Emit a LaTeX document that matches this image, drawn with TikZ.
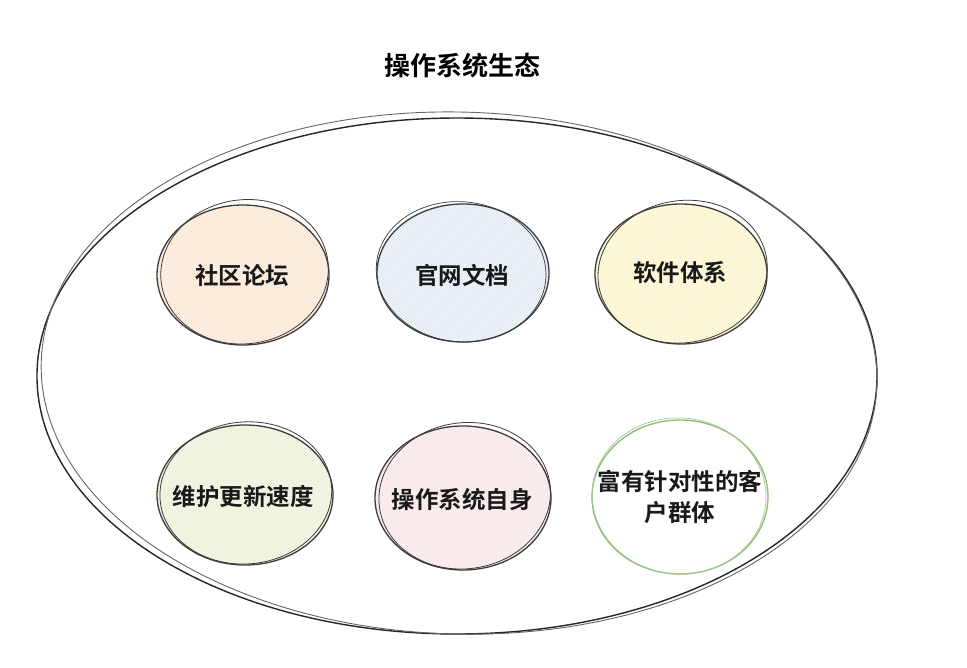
\documentclass[tikz,border=0pt]{standalone}
\usepackage{fontspec}
\newfontfamily\cjk{Noto Sans CJK SC}
\newfontfamily\cjkb{Noto Sans CJK SC Bold}
\usetikzlibrary{patterns}
\definecolor{cOr}{HTML}{FBE3CC}
\definecolor{cBl}{HTML}{DDE7F3}
\definecolor{cYe}{HTML}{FAF4C4}
\definecolor{cGr}{HTML}{E8EFD2}
\definecolor{cPk}{HTML}{F8E2E2}
\definecolor{cGo}{HTML}{8FBA78}
\definecolor{lineC}{HTML}{3C3C3C}
\tikzset{
  bub/.style={draw=lineC, line width=1.3pt, preaction={fill=#1}, pattern=north east lines, pattern color=white},
  bubtxt/.style={font=\cjkb\fontsize{23.5}{31}\selectfont, text=black!90, align=center}
}
\begin{document}
\begin{tikzpicture}[x=1pt,y=-1pt]
\useasboundingbox (0,0) rectangle (967,667);
\fill[white] (0,0) rectangle (967,667);
% outer ellipse (sketchy)
\draw[line width=1.4pt, color=black!85] (457,376) ellipse [x radius=420, y radius=258];
\draw[line width=0.9pt, color=black!60, rotate around={-1.5:(457,376)}] (459,373) ellipse [x radius=418, y radius=261];
\node[font=\cjkb\fontsize{26}{30}\selectfont] (title) at (462,66) {操作系统生态};
% bubbles
\draw[bub=cOr] (243,275) ellipse [x radius=86, y radius=70];
\draw[draw=lineC, line width=0.8pt, rotate around={8:(243,275)}] (245,272) ellipse [x radius=84, y radius=72];
\node[bubtxt] (n1) at (242,275) {社区论坛};

\draw[bub=cBl] (463,273) ellipse [x radius=86, y radius=69];
\draw[draw=lineC, line width=0.7pt, rotate around={-6:(463,273)}] (461,272) ellipse [x radius=85, y radius=70];
\node[bubtxt] (n2) at (462,275) {官网文档};

\draw[bub=cYe] (681,274) ellipse [x radius=86, y radius=70];
\draw[draw=lineC, line width=0.8pt, rotate around={10:(681,274)}] (683,272) ellipse [x radius=85, y radius=71];
\node[bubtxt] (n3) at (680,273) {软件体系};

\draw[bub=cGr] (245,495) ellipse [x radius=88, y radius=70];
\draw[draw=lineC, line width=0.8pt, rotate around={5:(245,495)}] (246,493) ellipse [x radius=86, y radius=71];
\node[bubtxt] (n4) at (243,497) {维护更新速度};

\draw[bub=cPk] (463,498) ellipse [x radius=88, y radius=72];
\draw[draw=lineC, line width=0.8pt, rotate around={8:(463,498)}] (465,496) ellipse [x radius=86, y radius=73];
\node[bubtxt] (n5) at (462,500) {操作系统自身};

\draw[draw=cGo, line width=1.3pt] (680,497) ellipse [x radius=88, y radius=77];
\draw[draw=cGo!80, line width=0.7pt, rotate around={-4:(680,497)}] (679,496) ellipse [x radius=87, y radius=78];
\node[bubtxt, text width=190pt] (n6) at (680,497) {富有针对性的客\\户群体};
\end{tikzpicture}
\end{document}
